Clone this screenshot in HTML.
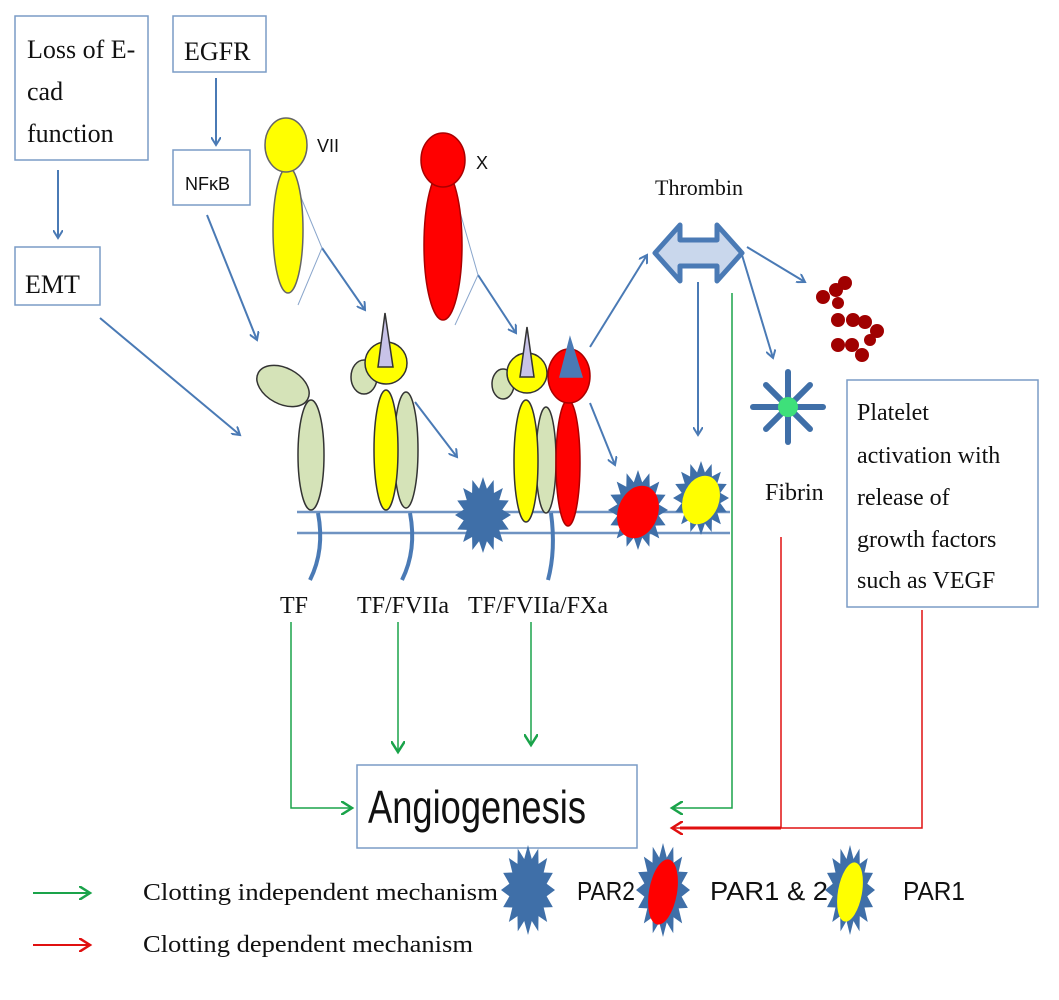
<!DOCTYPE html>
<html><head><meta charset="utf-8"><style>
html,body{margin:0;padding:0;background:#fff;}
svg{display:block;}
.s{font-family:"Liberation Serif",serif;fill:#111;}
.a{font-family:"Liberation Sans",sans-serif;fill:#111;}
</style></head><body>
<svg width="1059" height="1000" viewBox="0 0 1059 1000" xmlns="http://www.w3.org/2000/svg">
<defs>
<marker id="ab" markerWidth="10" markerHeight="10" refX="8" refY="5" orient="auto" markerUnits="userSpaceOnUse"><path d="M0,0 L8,5 L0,10" fill="none" stroke="#4a7ab5" stroke-width="2"/></marker>
<marker id="ag" markerWidth="14" markerHeight="14" refX="11" refY="7" orient="auto" markerUnits="userSpaceOnUse"><path d="M0,0 L11,7 L0,14" fill="none" stroke="#1aa34a" stroke-width="2.5"/></marker>
<marker id="ar" markerWidth="14" markerHeight="14" refX="11" refY="7" orient="auto" markerUnits="userSpaceOnUse"><path d="M0,0 L11,7 L0,14" fill="none" stroke="#e01010" stroke-width="2.5"/></marker>
<polygon id="st" points="100,0 69,14 92,38 58,39 71,71 39,58 38,92 14,69 0,100 -14,69 -38,92 -39,58 -71,71 -58,39 -92,38 -69,14 -100,0 -69,-14 -92,-38 -58,-39 -71,-71 -39,-58 -38,-92 -14,-69 0,-100 14,-69 38,-92 39,-58 71,-71 58,-39 92,-38 69,-14"/>
</defs>

<g fill="#fff" stroke="#7a9cc6" stroke-width="1.5">
<rect x="15" y="16" width="133" height="144"/>
<rect x="173" y="16" width="93" height="56"/>
<rect x="173" y="150" width="77" height="55"/>
<rect x="15" y="247" width="85" height="58"/>
<rect x="847" y="380" width="191" height="227"/>
<rect x="357" y="765" width="280" height="83"/>
</g>
<text class="s" font-size="26" x="27" y="58">Loss of E-</text>
<text class="s" font-size="26" x="27" y="100">cad</text>
<text class="s" font-size="26" x="27" y="142">function</text>
<text class="s" font-size="26" x="184" y="60">EGFR</text>
<text class="a" font-size="18" x="185" y="190">NFκB</text>
<text class="s" font-size="26" x="25" y="293">EMT</text>
<text class="s" font-size="24" x="857" y="420">Platelet</text>
<text class="s" font-size="24" x="857" y="463">activation with</text>
<text class="s" font-size="24" x="857" y="505">release of</text>
<text class="s" font-size="24" x="857" y="547">growth factors</text>
<text class="s" font-size="24" x="857" y="588">such as VEGF</text>
<text class="a" font-size="46" x="368" y="823" textLength="218" lengthAdjust="spacingAndGlyphs">Angiogenesis</text>

<g stroke="#4a7ab5" stroke-width="2" fill="none" marker-end="url(#ab)">
<line x1="58" y1="170" x2="58" y2="238"/>
<line x1="216" y1="78" x2="216" y2="145"/>
<line x1="207" y1="215" x2="257" y2="340"/>
<line x1="100" y1="318" x2="240" y2="435"/>
<line x1="322" y1="248" x2="365" y2="310"/>
<line x1="478" y1="275" x2="516" y2="333"/>
<line x1="415" y1="402" x2="457" y2="457"/>
<line x1="590" y1="403" x2="615" y2="465"/>
<line x1="590" y1="347" x2="647" y2="255"/>
<line x1="698" y1="282" x2="698" y2="435"/>
<line x1="747" y1="247" x2="805" y2="282"/>
<line x1="742" y1="255" x2="773" y2="358"/>
</g>
<g stroke="#8aa6cc" stroke-width="1" fill="none">
<polyline points="300,195 322,248 298,305"/>
<polyline points="458,205 478,275 455,325"/>
</g>

<g stroke="#666" stroke-width="1.5">
<ellipse cx="288" cy="230" rx="15" ry="63" fill="#ffff00"/>
<ellipse cx="286" cy="145" rx="21" ry="27" fill="#ffff00"/>
<ellipse cx="443" cy="245" rx="19" ry="75" fill="#ff0000" stroke="#a00"/>
<ellipse cx="443" cy="160" rx="22" ry="27" fill="#ff0000" stroke="#a00"/>
</g>
<text class="a" font-size="18" x="317" y="152">VII</text>
<text class="a" font-size="18" x="476" y="169">X</text>

<g stroke="#6f93c2" stroke-width="2.5">
<line x1="297" y1="512" x2="730" y2="512"/>
<line x1="297" y1="533" x2="730" y2="533"/>
</g>
<g stroke="#4a7ab5" stroke-width="4" fill="none">
<path d="M318,513 Q325,550 310,580"/>
<path d="M410,513 Q417,550 402,580"/>
<path d="M551,513 Q556,550 548,580"/>
</g>

<g stroke="#333" stroke-width="1.5" fill="#d5e3b8">
<ellipse cx="311" cy="455" rx="13" ry="55"/>
<ellipse cx="283" cy="386" rx="28" ry="18" transform="rotate(28 283 386)"/>
</g>
<g stroke="#333" stroke-width="1.5">
<ellipse cx="364" cy="377" rx="13" ry="17" fill="#d5e3b8"/>
<ellipse cx="406" cy="450" rx="12" ry="58" fill="#d5e3b8"/>
<ellipse cx="386" cy="450" rx="12" ry="60" fill="#ffff00"/>
<circle cx="386" cy="363" r="21" fill="#ffff00"/>
<polygon points="385,313 378,367 393,367" fill="#c8c3e8"/>
</g>
<g stroke="#333" stroke-width="1.5">
<ellipse cx="503" cy="384" rx="11" ry="15" fill="#d5e3b8"/>
<ellipse cx="546" cy="460" rx="10" ry="53" fill="#d5e3b8"/>
<ellipse cx="526" cy="461" rx="12" ry="61" fill="#ffff00"/>
<circle cx="527" cy="373" r="20" fill="#ffff00"/>
<polygon points="527,327 520,377 534,377" fill="#c8c3e8"/>
<ellipse cx="568" cy="463" rx="12" ry="63" fill="#ff0000" stroke="#a00"/>
<ellipse cx="569" cy="376" rx="21" ry="27" fill="#ff0000" stroke="#a00"/>
<polygon points="570,338 560,377 582,377" fill="#4a7ab5" stroke="#4a7ab5"/>
</g>

<use href="#st" fill="#3f6fa8" transform="translate(483,515) scale(0.28,0.38)"/>
<use href="#st" fill="#3f6fa8" transform="translate(638,510) scale(0.3,0.4)"/>
<ellipse cx="638" cy="512" rx="20" ry="27" fill="#ff0000" transform="rotate(20 638 512)"/>
<use href="#st" fill="#3f6fa8" transform="translate(701,498) scale(0.28,0.37)"/>
<ellipse cx="701" cy="500" rx="18" ry="25" fill="#ffff00" transform="rotate(20 701 500)"/>

<text class="s" font-size="22" x="655" y="195">Thrombin</text>
<polygon points="655,253 680,225 680,240 717,240 717,225 742,253 717,281 717,266 680,266 680,281" fill="#c9d7ec" stroke="#4a7ab5" stroke-width="5" stroke-linejoin="round"/>

<g fill="#a00000">
<circle cx="823" cy="297" r="7"/><circle cx="836" cy="290" r="7"/><circle cx="845" cy="283" r="7"/><circle cx="838" cy="303" r="6"/>
<circle cx="838" cy="320" r="7"/><circle cx="853" cy="320" r="7"/><circle cx="865" cy="322" r="7"/><circle cx="877" cy="331" r="7"/>
<circle cx="838" cy="345" r="7"/><circle cx="852" cy="345" r="7"/><circle cx="862" cy="355" r="7"/><circle cx="870" cy="340" r="6"/>
</g>

<g stroke="#3f6fa8" stroke-width="6" stroke-linecap="round">
<line x1="788" y1="372" x2="788" y2="442"/><line x1="753" y1="407" x2="823" y2="407"/>
<line x1="766" y1="385" x2="810" y2="429"/><line x1="810" y1="385" x2="766" y2="429"/>
</g>
<circle cx="788" cy="407" r="10" fill="#3ee07a"/>
<text class="s" font-size="24" x="765" y="500">Fibrin</text>

<text class="s" font-size="24" x="280" y="613">TF</text>
<text class="s" font-size="24" x="357" y="613">TF/FVIIa</text>
<text class="s" font-size="24" x="468" y="613">TF/FVIIa/FXa</text>

<g stroke="#1aa34a" stroke-width="1.5" fill="none">
<polyline points="291,622 291,808 352,808" marker-end="url(#ag)"/>
<line x1="398" y1="622" x2="398" y2="752" marker-end="url(#ag)"/>
<line x1="531" y1="622" x2="531" y2="745" marker-end="url(#ag)"/>
<polyline points="732,293 732,808 672,808" marker-end="url(#ag)"/>
</g>
<g stroke="#e01010" stroke-width="1.5" fill="none">
<polyline points="781,537 781,828"/>
<polyline points="922,610 922,828 672,828" marker-end="url(#ar)"/>
</g>
<line x1="781" y1="828" x2="680" y2="828" stroke="#e01010" stroke-width="3"/>

<line x1="33" y1="893" x2="90" y2="893" stroke="#1aa34a" stroke-width="2" marker-end="url(#ag)"/>
<line x1="33" y1="945" x2="90" y2="945" stroke="#e01010" stroke-width="2" marker-end="url(#ar)"/>
<text class="s" font-size="24" x="143" y="900" textLength="355" lengthAdjust="spacingAndGlyphs">Clotting independent mechanism</text>
<text class="s" font-size="24" x="143" y="952" textLength="330" lengthAdjust="spacingAndGlyphs">Clotting dependent mechanism</text>
<use href="#st" fill="#3f6fa8" transform="translate(528,890) scale(0.27,0.45)"/>
<use href="#st" fill="#3f6fa8" transform="translate(663,890) scale(0.27,0.47)"/>
<ellipse cx="663" cy="892" rx="14" ry="33" fill="#ff0000" transform="rotate(10 663 892)"/>
<use href="#st" fill="#3f6fa8" transform="translate(850,890) scale(0.25,0.45)"/>
<ellipse cx="850" cy="892" rx="12" ry="30" fill="#ffff00" transform="rotate(10 850 892)"/>
<text class="a" font-size="26" x="577" y="900" textLength="58" lengthAdjust="spacingAndGlyphs">PAR2</text>
<text class="a" font-size="26" x="710" y="900" textLength="118" lengthAdjust="spacingAndGlyphs">PAR1 &amp; 2</text>
<text class="a" font-size="26" x="903" y="900" textLength="62" lengthAdjust="spacingAndGlyphs">PAR1</text>
</svg>
</body></html>
